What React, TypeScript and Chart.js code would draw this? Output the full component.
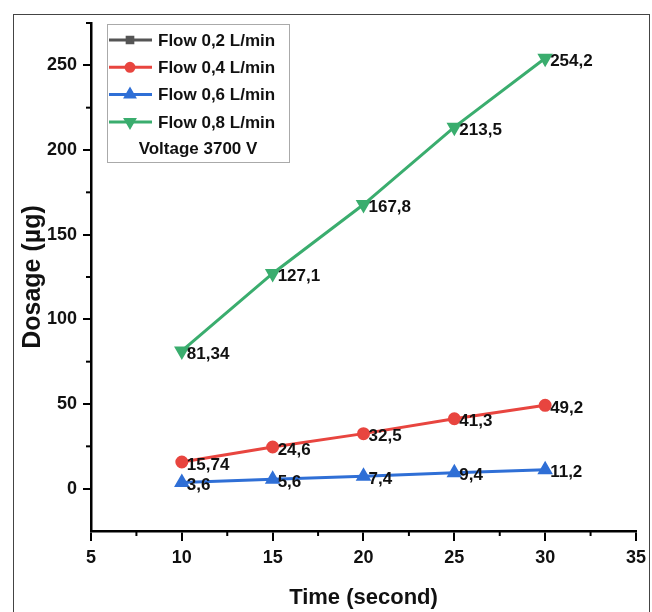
import React, { useEffect, useRef } from "react";
import { Chart, registerables } from "chart.js";
import { drawPoint } from "chart.js/helpers";

Chart.register(...registerables);

const times = [10, 15, 20, 25, 30];
const flow02: number[] = [];
const flow04 = [15.74, 24.6, 32.5, 41.3, 49.2];
const flow06 = [3.6, 5.6, 7.4, 9.4, 11.2];
const flow08 = [81.34, 127.1, 167.8, 213.5, 254.2];

const seriesLabels = ["Flow 0,2 L/min", "Flow 0,4 L/min", "Flow 0,6 L/min", "Flow 0,8 L/min"];
const legendNote = "Voltage 3700 V";

const xTicks = [5, 10, 15, 20, 25, 30, 35];
const yTicks = [0, 50, 100, 150, 200, 250];
const xMinorTicks = [7.5, 12.5, 17.5, 22.5, 27.5, 32.5];
const yMinorTicks = [25, 75, 125, 175, 225, 275];

const FONT = "'Liberation Sans', Arial, sans-serif";

const frameAndMinorPlugin = {
  id: "frameAndMinor",
  beforeDraw(chart: any) {
    const { ctx, width, height } = chart;
    ctx.save();
    ctx.fillStyle = "#fff";
    ctx.fillRect(0, 0, width, height);
    ctx.strokeStyle = "#444";
    ctx.lineWidth = 1;
    ctx.strokeRect(13.5, 14.5, 636, 620);
    ctx.restore();
  },
  afterDraw(chart: any) {
    const { ctx, chartArea } = chart;
    const xs = chart.scales.x;
    const ys = chart.scales.y;
    ctx.save();
    ctx.strokeStyle = "#000";
    ctx.lineWidth = 2;
    xMinorTicks.forEach((v) => {
      const px = xs.getPixelForValue(v);
      ctx.beginPath();
      ctx.moveTo(px, chartArea.bottom);
      ctx.lineTo(px, chartArea.bottom + 5);
      ctx.stroke();
    });
    yMinorTicks.forEach((v) => {
      const py = ys.getPixelForValue(v);
      ctx.beginPath();
      ctx.moveTo(chartArea.left, py);
      ctx.lineTo(chartArea.left - 5, py);
      ctx.stroke();
    });
    ctx.restore();
  },
};

const labelPlugin = {
  id: "valueLabels",
  afterDatasetsDraw(chart: any) {
    const { ctx } = chart;
    ctx.save();
    ctx.font = `bold 17px ${FONT}`;
    ctx.fillStyle = "#111";
    ctx.textAlign = "left";
    ctx.textBaseline = "middle";
    chart.data.datasets.forEach((ds: any, i: number) => {
      const meta = chart.getDatasetMeta(i);
      meta.data.forEach((pt: any, j: number) => {
        const v = ds.data[j].y;
        ctx.fillText(String(v).replace(".", ","), pt.x + 5, pt.y + 3);
      });
    });
    ctx.restore();
  },
};

const legendPlugin = {
  id: "boxLegend",
  afterDraw(chart: any) {
    const { ctx } = chart;
    const bx = 107, by = 24, bw = 182, bh = 138;
    ctx.save();
    ctx.fillStyle = "#fff";
    ctx.fillRect(bx, by, bw, bh);
    ctx.strokeStyle = "#aaa";
    ctx.lineWidth = 1;
    ctx.strokeRect(bx + 0.5, by + 0.5, bw, bh);
    chart.data.datasets.forEach((ds: any, i: number) => {
      const y = 40 + i * 27.3;
      ctx.strokeStyle = ds.borderColor;
      ctx.lineWidth = 3;
      ctx.beginPath();
      ctx.moveTo(109, y);
      ctx.lineTo(152, y);
      ctx.stroke();
      ctx.fillStyle = ds.borderColor;
      ctx.strokeStyle = ds.borderColor;
      drawPoint(
        ctx,
        {
          pointStyle: ds.pointStyle,
          rotation: ds.pointRotation || 0,
          radius: ds.pointRadius - 1,
          borderWidth: 1,
        } as any,
        130,
        y
      );
      ctx.fillStyle = "#111";
      ctx.font = `bold 17px ${FONT}`;
      ctx.textAlign = "left";
      ctx.textBaseline = "middle";
      ctx.fillText(ds.label, 158, y + 1);
    });
    ctx.fillStyle = "#111";
    ctx.font = `bold 17px ${FONT}`;
    ctx.textAlign = "center";
    ctx.textBaseline = "middle";
    ctx.fillText(legendNote, bx + bw / 2, 149);
    ctx.restore();
  },
};

function toPoints(vals: number[]) {
  return vals.map((v, i) => ({ x: times[i], y: v }));
}

export default function App() {
  const ref = useRef<HTMLCanvasElement>(null);
  useEffect(() => {
    document.body.style.margin = "0";
    const colors = ["#555555", "#e8453f", "#2f6fd6", "#3aad6e"];
    const styles = ["rect", "circle", "triangle", "triangle"];
    const rotations = [0, 0, 0, 180];
    const radii = [5, 5, 6, 6];
    const all = [flow02, flow04, flow06, flow08];
    const chart = new Chart(ref.current!, {
      type: "line",
      data: {
        datasets: all.map((vals, i) => ({
          label: seriesLabels[i],
          data: toPoints(vals),
          borderColor: colors[i],
          backgroundColor: colors[i],
          pointBackgroundColor: colors[i],
          pointBorderColor: colors[i],
          pointStyle: styles[i],
          pointRotation: rotations[i],
          pointRadius: radii[i],
          borderWidth: 3,
          tension: 0,
        })),
      } as any,
      options: {
        animation: false,
        responsive: false,
        layout: { padding: { left: 0, top: 23, right: 15, bottom: 0 } },
        plugins: {
          legend: { display: false },
          tooltip: { enabled: false },
        },
        scales: {
          x: {
            type: "linear",
            min: 5,
            max: 35,
            afterBuildTicks: (s: any) => {
              s.ticks = xTicks.map((v) => ({ value: v }));
            },
            afterFit: (s: any) => {
              s.height = 81;
            },
            grid: { drawOnChartArea: false, drawTicks: true, tickLength: 10, color: "#000", lineWidth: 2 },
            border: { display: true, color: "#000", width: 2.5 },
            ticks: {
              color: "#111",
              font: { family: FONT, size: 18, weight: "bold" },
              padding: 6,
              maxRotation: 0,
              callback: (v: any) => String(v),
            },
            title: {
              display: true,
              text: "Time (second)",
              color: "#111",
              font: { family: FONT, size: 22, weight: "bold" },
              padding: { top: 0, bottom: 1 },
            },
          },
          y: {
            type: "linear",
            min: -25,
            max: 275,
            afterBuildTicks: (s: any) => {
              s.ticks = yTicks.map((v) => ({ value: v }));
            },
            afterFit: (s: any) => {
              s.width = 91;
            },
            grid: { drawOnChartArea: false, drawTicks: true, tickLength: 8, color: "#000", lineWidth: 2 },
            border: { display: true, color: "#000", width: 2.5 },
            ticks: {
              color: "#111",
              font: { family: FONT, size: 18, weight: "bold" },
              padding: 6,
              callback: (v: any) => String(v),
            },
            title: {
              display: true,
              text: "Dosage (µg)",
              color: "#111",
              font: { family: FONT, size: 25, weight: "bold" },
              padding: { top: 18, bottom: 0 },
            },
          },
        },
      } as any,
      plugins: [frameAndMinorPlugin, labelPlugin, legendPlugin],
    });
    return () => chart.destroy();
  }, []);
  return <canvas ref={ref} width={652} height={612} style={{ display: "block" }} />;
}
